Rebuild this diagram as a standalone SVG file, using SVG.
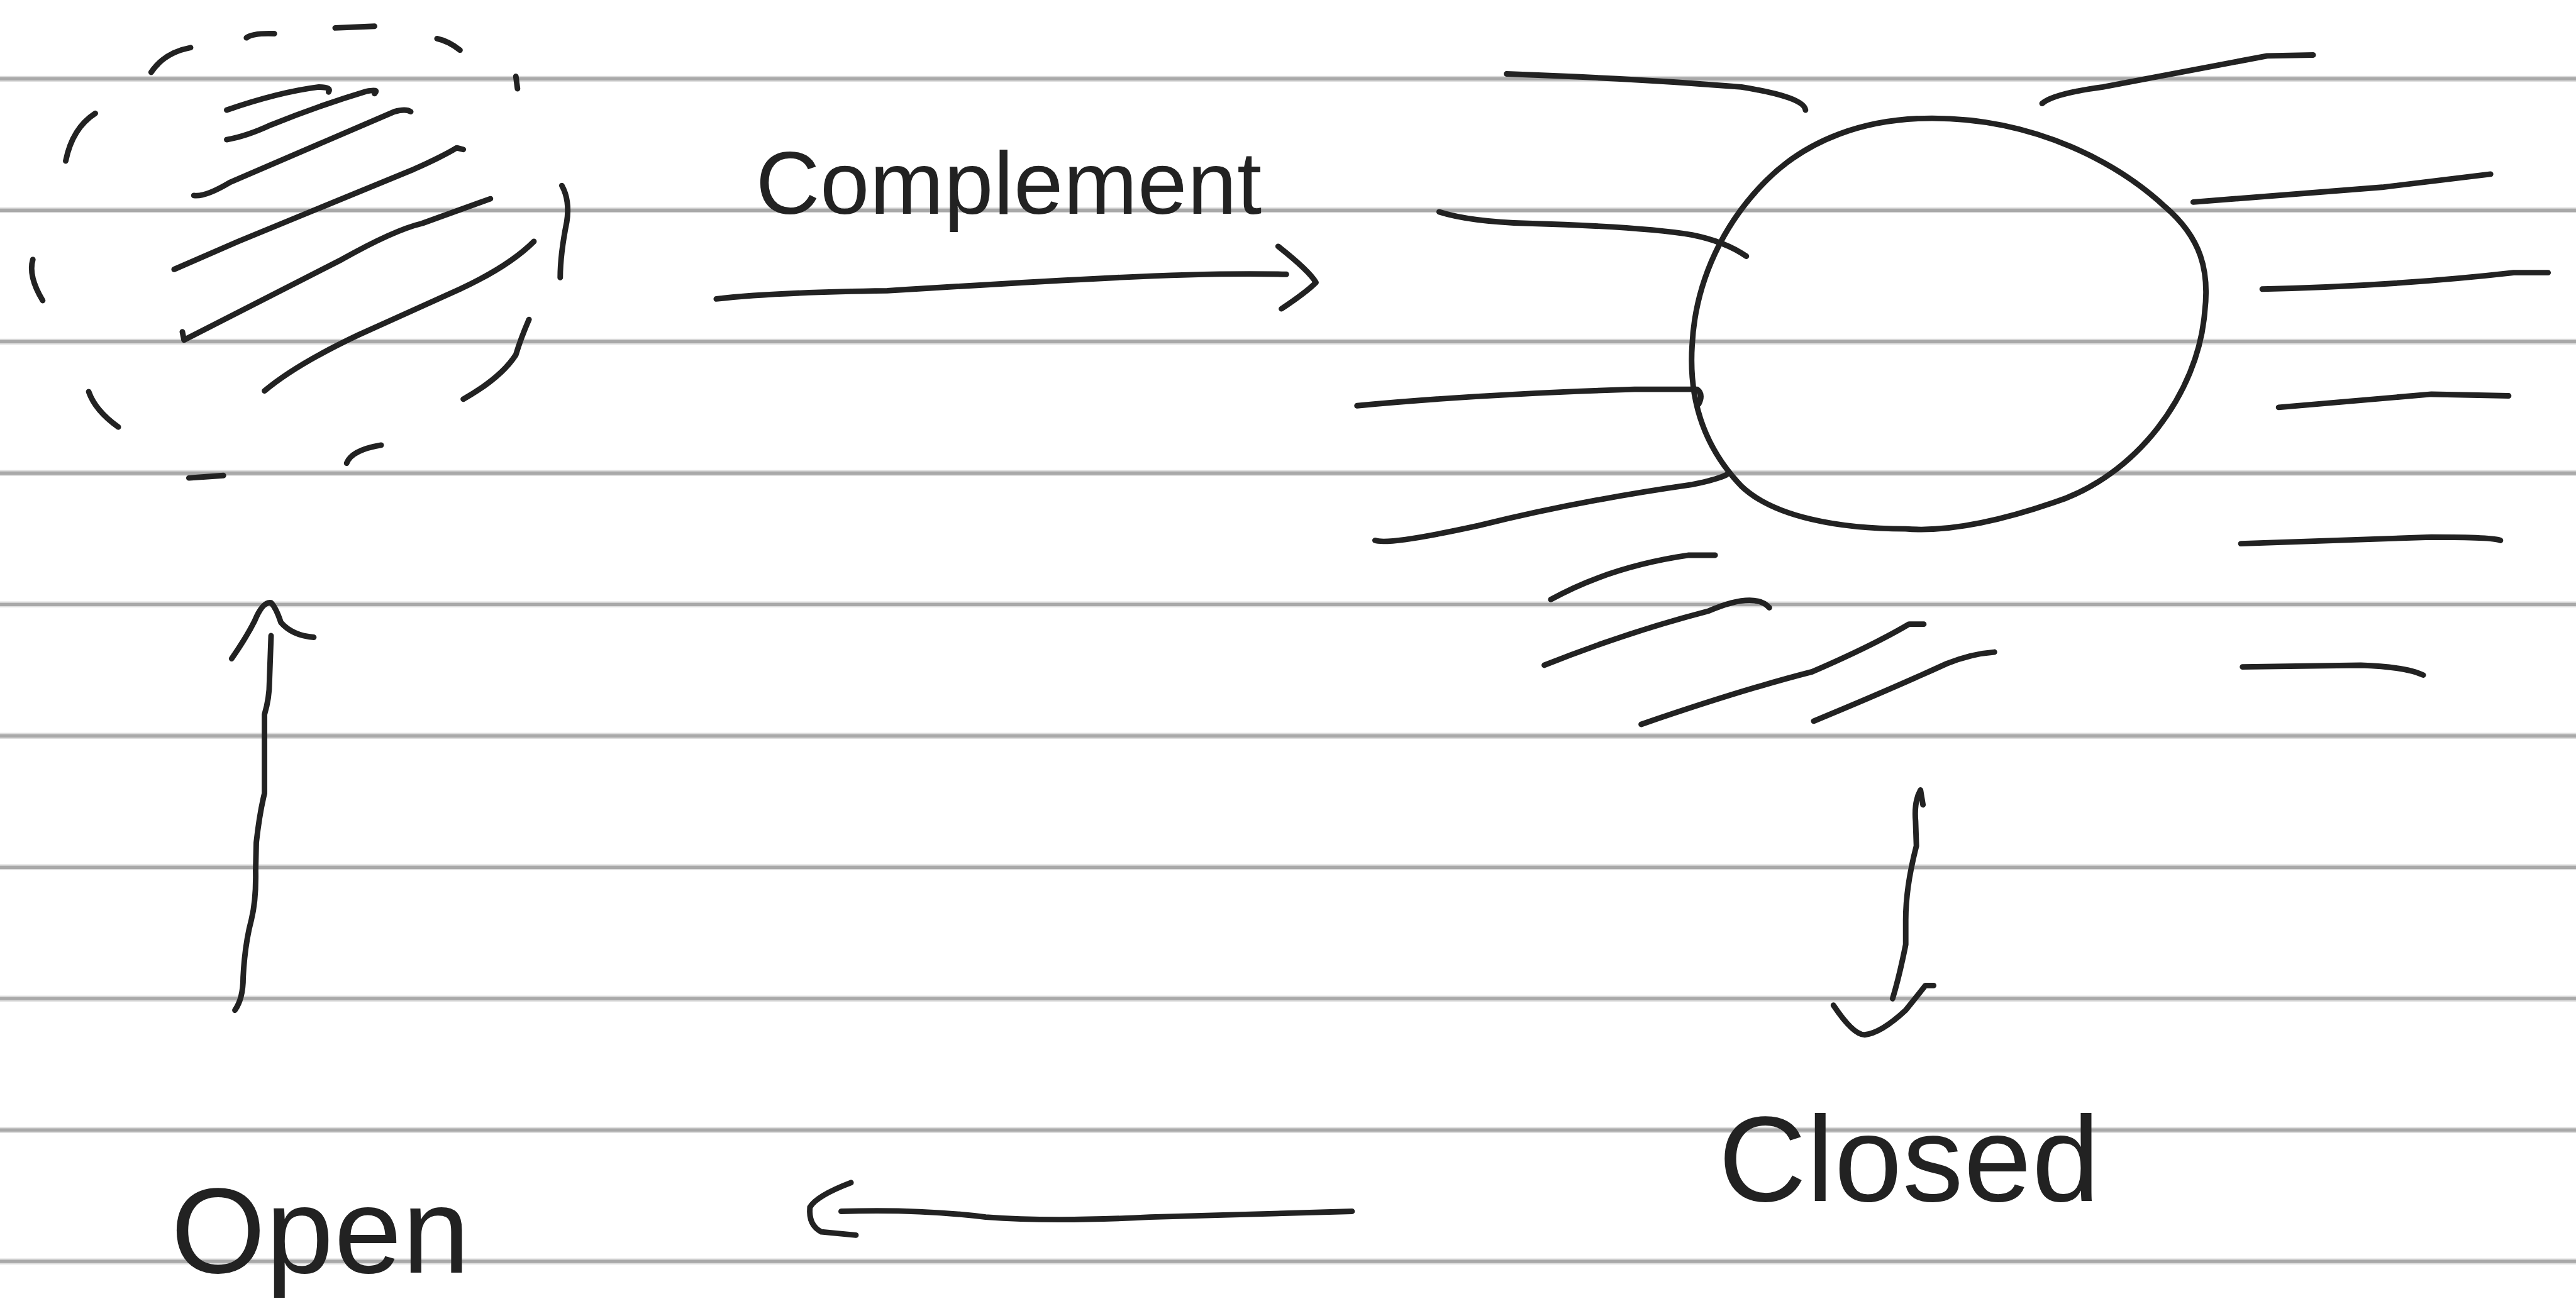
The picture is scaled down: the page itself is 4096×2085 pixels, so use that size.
<svg xmlns="http://www.w3.org/2000/svg" width="4096" height="2085" viewBox="0 0 4096 2085">
<style>
.rule{stroke:#a9a9a9;stroke-width:2;fill:none}
.halo{stroke:#dedede;stroke-width:3.6;fill:none}
.ink{stroke:#222;stroke-width:3.4;fill:none;stroke-linecap:round;stroke-linejoin:round}
.txt{font-family:"Liberation Sans","DejaVu Sans",sans-serif;fill:#222}
</style>
<rect width="4096" height="2085" fill="#ffffff"/>
<g transform="scale(2.612245)">
<g id="paper">
<path class="halo" d="M0,48H1568M0,128H1568M0,208H1568M0,288H1568M0,368H1568M0,448H1568M0,528H1568M0,608H1568M0,688H1568M0,768H1568"/>
<path class="rule" d="M0,48H1568M0,128H1568M0,208H1568M0,288H1568M0,368H1568M0,448H1568M0,528H1568M0,608H1568M0,688H1568M0,768H1568"/>
</g>
<g id="open-set" class="ink">
<path d="M92,44 Q100,32 116,29"/>
<path d="M150,23 Q154,20 167,20.5"/>
<path d="M204,17 L228,16"/>
<path d="M266,23.5 Q273,25 280,30.5"/>
<path d="M314,46.5 L315,54"/>
<path d="M342,113 Q347,122 345,135 Q341,155 341,169"/>
<path d="M322,194.5 Q317,206 314,216 Q305,230 282,243"/>
<path d="M232,271 Q214,274 211,282"/>
<path d="M115,291 L136,289.5"/>
<path d="M54,238.5 Q58,250 72,260"/>
<path d="M20,158 Q17,168 26,183"/>
<path d="M58,69 Q44,78 40,98"/>
<path d="M138,67 Q170,56 194,53 Q202,53 200,56"/>
<path d="M138,85 Q150,83 165,76 Q195,64 223,55.6 Q231,54 228,57"/>
<path d="M118,119 Q125,120 140,111 L240,68 Q247,66 250,68"/>
<path d="M106,164 L145,147 L252,103 Q270,95 278,90 L282,91"/>
<path d="M111,202 L112,207 L208,158 Q240,140 257,136 L298.5,121"/>
<path d="M325,147 Q310,162 280,176 L218,204 Q180,222 161,238"/>
</g>
<g id="closed-set" class="ink">
<path d="M1176,72 C1240,72 1290,100 1318,126 C1340,145 1345,165 1342,190 C1338,240 1300,290 1250,306 C1215,318 1185,324 1160,322 C1120,322 1080,315 1060,296 C1035,270 1028,240 1030,210 C1032,170 1050,135 1075,110 C1100,85 1135,72 1176,72 Z"/>
<path d="M917,45 Q1000,48 1060,53 Q1098,59 1099,67"/>
<path d="M1243,63 Q1250,57 1280,53 L1380,34 L1408,33.5"/>
<path d="M876,129 Q895,135 930,136 Q1000,138 1030,143 Q1050,147 1063,156"/>
<path d="M1335,123 Q1400,118 1450,114 Q1500,108 1516,106"/>
<path d="M1377,176 Q1460,174 1530,166 L1551,166"/>
<path d="M826,247 Q900,240 995,237 L1033,237 Q1037,240 1034,246"/>
<path d="M1387,248 L1480,240 L1527,241"/>
<path d="M837,329 Q845,332 900,320 Q960,305 1030,295 Q1045,292 1051,289"/>
<path d="M1364,331 L1480,327 Q1518,327 1522,329"/>
<path d="M944,365 Q980,345 1028,338 L1044,338"/>
<path d="M940,405 Q990,385 1040,372 Q1068,360 1077,370"/>
<path d="M999,441 Q1060,420 1103,409 Q1140,393 1162,380 L1171,380"/>
<path d="M1104,439 Q1150,420 1185,404 Q1200,398 1214,397"/>
<path d="M1365,406 L1437,405 Q1465,406 1475,411"/>
</g>
<g id="label-complement">
<text class="txt" x="460" y="130" font-size="54" textLength="308" lengthAdjust="spacing">Complement</text>
</g>
<g id="label-closed">
<text class="txt" x="1046" y="731" font-size="74" textLength="232" lengthAdjust="spacing">Closed</text>
</g>
<g id="label-open">
<text class="txt" x="104" y="775" font-size="74" textLength="182" lengthAdjust="spacing">Open</text>
</g>
<g id="connectors" class="ink">
<g id="arrow-complement">
<path d="M436,182 Q470,178 540,177 Q620,172 680,169 Q740,166 783,167"/>
<path d="M778,150 Q797,165 801,172 Q795,178 780,188"/>
</g>
<g id="arrow-down">
<path d="M1170.5,490 L1169,481 Q1165,488 1166,500 L1166.5,515 Q1160,540 1160,560 L1160,575 Q1156,595 1152,608"/>
<path d="M1116,612 Q1128,630 1135,630 Q1145,629 1160,615 Q1168,605 1172,600 L1177,600"/>
</g>
<g id="arrow-left">
<path d="M512,737.5 Q560,736 600,741 Q640,744 700,741 L823,737.5"/>
<path d="M518,720 Q497,728 493,735 Q492,746 500,750 L521,752"/>
</g>
<g id="arrow-up">
<path d="M143,615 Q148,608 148,595 Q149,575 153,560 Q156,548 155.6,530 L156,513 Q158,495 161,483 L161,435 Q164,425 164,415 L165,387"/>
<path d="M141,401 Q150,388 155,378 Q160,366 165,367 Q168,370 171,379 Q178,387 191,388"/>
</g>
</g>
</g>
</svg>
